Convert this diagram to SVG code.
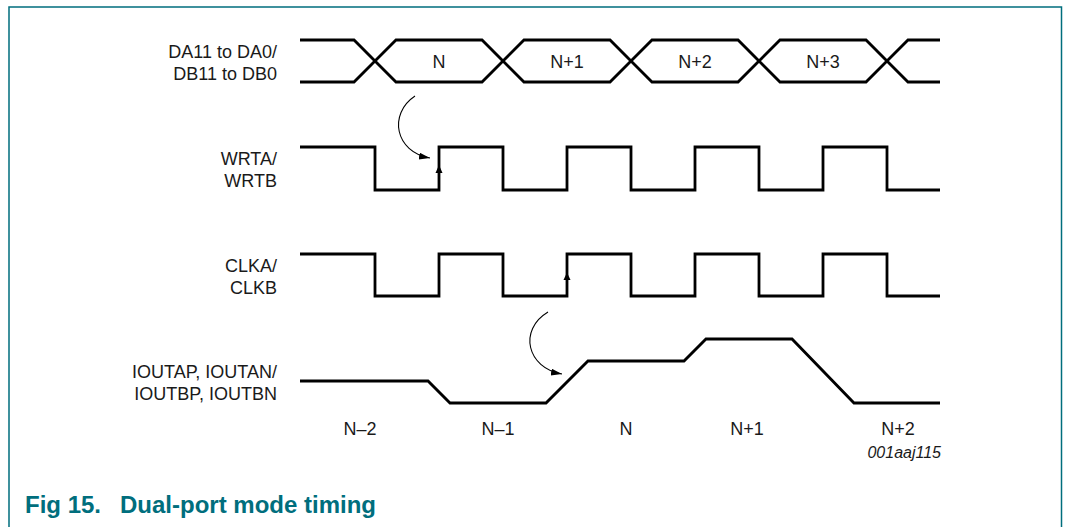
<svg xmlns="http://www.w3.org/2000/svg" width="1066" height="527" viewBox="0 0 1066 527">
  <style>
    .sig { fill: none; stroke: #000; stroke-width: 2.8; stroke-linejoin: miter; }
    .lbl { font-family: "Liberation Sans", Arial, sans-serif; font-size: 18px; fill: #1a1a1a; }
    .end { text-anchor: end; }
    .mid { text-anchor: middle; }
    .conn { fill: none; stroke: #000; stroke-width: 1.1; }
    .head { fill: #000; stroke: none; }
    .cap { font-family: "Liberation Sans", Arial, sans-serif; font-size: 24px; font-weight: bold; fill: #006E7D; }
  </style>
  <defs>
    <marker id="arr" markerUnits="userSpaceOnUse" markerWidth="12" markerHeight="8" refX="11" refY="3.5" orient="auto">
      <path d="M0,0 L11,3.5 L0,7 z" fill="#000"/>
    </marker>
  </defs>
  <rect width="1066" height="527" fill="#fff"/>
  <rect x="9" y="7" width="1052.5" height="600" fill="none" stroke="#006E7D" stroke-width="1.5"/>

  <g id="data-bus">
    <path class="sig" d="M300,40 H354 L375,61 L396,40 H482 L503,61 L524,40 H610 L631,61 L652,40 H738 L759,61 L780,40 H866 L887,61 L908,40 H940"/>
    <path class="sig" d="M300,82 H354 L375,61 L396,82 H482 L503,61 L524,82 H610 L631,61 L652,82 H738 L759,61 L780,82 H866 L887,61 L908,82 H940"/>
    <text class="lbl end" x="277" y="58">DA11 to DA0/</text>
    <text class="lbl end" x="277" y="80">DB11 to DB0</text>
    <text class="lbl mid" x="439" y="68">N</text>
    <text class="lbl mid" x="567" y="68">N+1</text>
    <text class="lbl mid" x="695" y="68">N+2</text>
    <text class="lbl mid" x="823" y="68">N+3</text>
  </g>

  <g id="wrt">
    <path class="sig" d="M300,147 H375 V190 H439 V147 H503 V190 H567 V147 H631 V190 H695 V147 H759 V190 H823 V147 H887 V190 H940"/>
    <polygon class="head" points="435.5,173 439,165 442.5,173"/>
    <text class="lbl end" x="277" y="165">WRTA/</text>
    <text class="lbl end" x="277" y="187">WRTB</text>
  </g>

  <g id="clk">
    <path class="sig" d="M300,254 H375 V296 H439 V254 H503 V296 H567 V254 H631 V296 H695 V254 H759 V296 H823 V254 H887 V296 H940"/>
    <polygon class="head" points="563.5,280 567,272.5 570.5,280"/>
    <text class="lbl end" x="277" y="272">CLKA/</text>
    <text class="lbl end" x="277" y="294">CLKB</text>
  </g>

  <g id="iout">
    <path class="sig" d="M300,381 H428 L450,403 H546 L588,361 H684 L706,339 H792 L854,403 H940"/>
    <text class="lbl end" x="277" y="378">IOUTAP, IOUTAN/</text>
    <text class="lbl end" x="277" y="400">IOUTBP, IOUTBN</text>
  </g>

  <g id="connectors">
    <path class="conn" d="M415,96 C388,114 395,152 430,158" marker-end="url(#arr)"/>
    <path class="conn" d="M548,312 C518,330 527,368 562,374" marker-end="url(#arr)"/>
  </g>

  <g id="sample-labels">
    <text class="lbl mid" x="360" y="435">N–2</text>
    <text class="lbl mid" x="498" y="435">N–1</text>
    <text class="lbl mid" x="626" y="435">N</text>
    <text class="lbl mid" x="747" y="435">N+1</text>
    <text class="lbl mid" x="898" y="435">N+2</text>
    <text x="941" y="458" text-anchor="end" font-family="'Liberation Sans', Arial, sans-serif" font-size="16" font-style="italic" fill="#1a1a1a">001aaj115</text>
  </g>

  <g id="caption">
    <text class="cap" x="25" y="513">Fig 15.</text>
    <text class="cap" x="120" y="513">Dual-port mode timing</text>
  </g>
</svg>
